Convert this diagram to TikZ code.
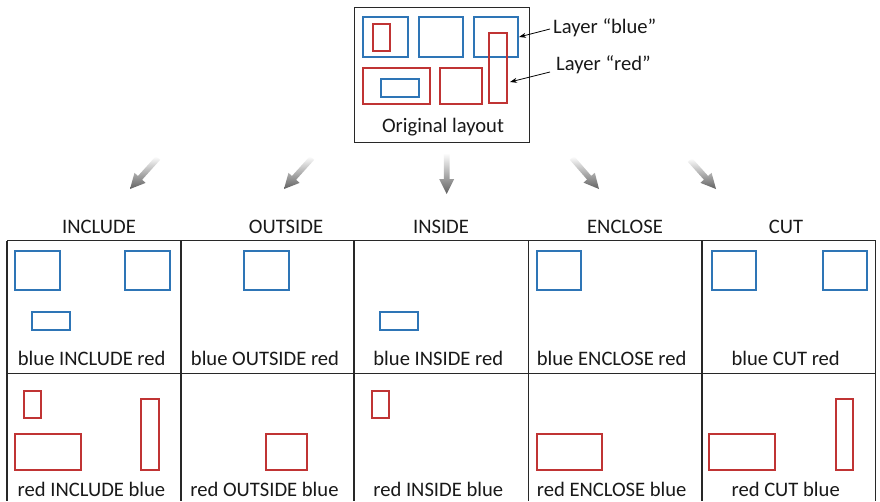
\documentclass[tikz,border=0pt]{standalone}
\usepackage{fontspec}
\setmainfont{Carlito}
\usetikzlibrary{calc,arrows.meta}
\definecolor{lblue}{RGB}{46,117,182}
\definecolor{lred}{RGB}{192,52,52}
\definecolor{gridc}{RGB}{40,40,40}
\newcommand{\gradarr}[4]{%
  \coordinate (#1t) at #2;
  \coordinate (#1h) at #3;
  \coordinate (#1b) at ($(#1h)!15pt!(#1t)$);
  \shade[shading angle=#4, top color=white, bottom color=black!62]
    ($(#1b)!7.5pt!90:(#1h)$) -- (#1h) -- ($(#1b)!7.5pt!-90:(#1h)$) --
    ($(#1b)!2.8pt!-90:(#1h)$) -- ($(#1t)!2.8pt!-90:(#1h)$) --
    ($(#1t)!2.8pt!90:(#1h)$) -- ($(#1b)!2.8pt!90:(#1h)$) -- cycle;
}
\begin{document}
\begin{tikzpicture}[x=1pt,y=-1pt,
  bl/.style={draw=lblue, line width=1.8pt},
  rd/.style={draw=lred, line width=1.8pt},
  lbl/.style={font=\fontsize{20.6}{24}\selectfont, text=black!90, inner sep=0pt},
  gridline/.style={draw=gridc, line width=1.2pt},
  ptr/.style={-{Stealth[length=7pt,width=5pt]}, line width=0.8pt, draw=black}]
\useasboundingbox (0,0) rectangle (880,501);
\fill[white] (0,0) rectangle (880,501);

% ---------- original layout ----------
\node[draw=gridc, line width=1.2pt, minimum width=175pt, minimum height=135pt,
      anchor=north west, inner sep=0pt] (orig) at (354,7) {};
\draw[bl] (363.3,16.7) rectangle (408.3,56.7);
\draw[bl] (419,16.7) rectangle (463.3,56.7);
\draw[bl] (474.3,16.7) rectangle (518.3,56.7);
\draw[bl] (381,79) rectangle (418.7,97.3);
\draw[rd] (373,24) rectangle (390,51);
\draw[rd] (363.3,67.7) rectangle (430,104);
\draw[rd] (440.3,67.7) rectangle (482,104);
\draw[rd] (489.3,32.7) rectangle (507.3,103.3);
\node[lbl] (origtxt) at (443,127) {Original layout};

\node[lbl, anchor=west] (layblue) at (553,28) {Layer “blue”};
\node[lbl, anchor=west] (layred) at (556,65) {Layer “red”};
\coordinate (bluesrc) at ([xshift=-3pt,yshift=-1pt]layblue.west);
\coordinate (bluetgt) at (519,37);
\coordinate (redsrc) at ([xshift=-6pt,yshift=-7pt]layred.west);
\coordinate (redtgt) at (510,82);
\draw[ptr] (bluesrc) -- (bluetgt);
\draw[ptr] (redsrc) -- (redtgt);

% ---------- gradient arrows ----------
\gradarr{a1}{(158,158)}{(130,189)}{-42}
\gradarr{a2}{(312,158)}{(284,189)}{-42}
\gradarr{a3}{(446.7,153)}{(446.7,194)}{0}
\gradarr{a4}{(572,158)}{(599,189)}{41}
\gradarr{a5}{(690,160)}{(716,189)}{42}

% ---------- column titles ----------
\node[lbl] (t1) at (99,226.5) {INCLUDE};
\node[lbl] (t2) at (286,226.5) {OUTSIDE};
\node[lbl] (t3) at (441,226.5) {INSIDE};
\node[lbl] (t4) at (625,226.5) {ENCLOSE};
\node[lbl] (t5) at (786,226.5) {CUT};

% ---------- grid ----------
\draw[gridline] (7,240.7) -- (875.5,240.7);
\draw[gridline] (7,373.3) -- (875.5,373.3);
\foreach \xx in {7,181,354,528.3,702,875.5}
  \draw[gridline] (\xx,240.7) -- (\xx,501);

% row 1: blue
\draw[bl] (14.7,250.7) rectangle (59.7,290.3);
\draw[bl] (125.3,250.7) rectangle (170,290.3);
\draw[bl] (32.3,311.7) rectangle (70,330);
\draw[bl] (244,250.7) rectangle (288.7,290.3);
\draw[bl] (380,311.7) rectangle (417.7,330);
\draw[bl] (536.7,250.7) rectangle (581,290.3);
\draw[bl] (712,250.7) rectangle (756.3,290.3);
\draw[bl] (822.7,250.7) rectangle (867,290.3);

\node[lbl] (c11) at (91.7,358.3) {blue INCLUDE red};
\node[lbl] (c12) at (265,358.3) {blue OUTSIDE red};
\node[lbl] (c13) at (438.3,358.3) {blue INSIDE red};
\node[lbl] (c14) at (611.7,358.3) {blue ENCLOSE red};
\node[lbl] (c15) at (785.7,358.3) {blue CUT red};

% row 2: red
\draw[rd] (24.3,390.7) rectangle (41.3,417.7);
\draw[rd] (14.7,434) rectangle (81,470);
\draw[rd] (141,399.3) rectangle (159,470);
\draw[rd] (265.7,434) rectangle (307.3,470);
\draw[rd] (372,390.7) rectangle (389,417.7);
\draw[rd] (536.7,434) rectangle (602.3,470);
\draw[rd] (709.3,434) rectangle (775.3,470);
\draw[rd] (835.7,399.3) rectangle (853.3,470);

\node[lbl] (c21) at (91.5,489.5) {red INCLUDE blue};
\node[lbl] (c22) at (264.5,489.5) {red OUTSIDE blue};
\node[lbl] (c23) at (438.3,489.5) {red INSIDE blue};
\node[lbl] (c24) at (611.7,489.5) {red ENCLOSE blue};
\node[lbl] (c25) at (785.7,489.5) {red CUT blue};
\end{tikzpicture}
\end{document}
